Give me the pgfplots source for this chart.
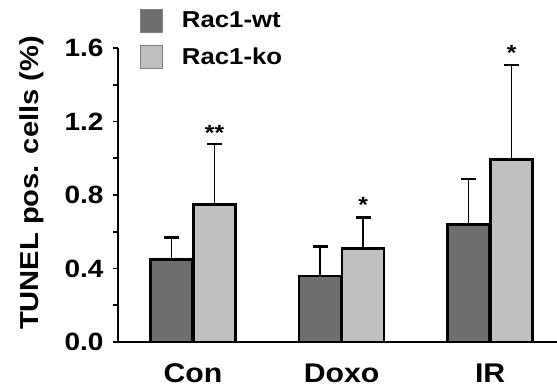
\documentclass[border=0pt]{standalone}
\usepackage{pgfplots}
\pgfplotsset{compat=1.18}
\usepackage{fontspec}
\setmainfont{Liberation Sans}[FakeStretch=1.12]
\definecolor{wt}{HTML}{6E6E6E}
\definecolor{ko}{HTML}{C0C0C0}
\begin{document}
\begin{tikzpicture}
\useasboundingbox (-118bp,-50bp) rectangle (439bp,342bp);
\begin{axis}[
  at={(0,0)}, anchor=south west,
  scale only axis, width=439bp, height=294bp,
  xmin=-0.505, xmax=2.45, ymin=0, ymax=1.6,
  axis lines*=left, axis line style={line width=2.2bp},
  axis x line*=bottom,
  x axis line style={-}, y axis line style={-},
  xtick={0,1,2}, xticklabels={Con,Doxo,IR},
  xtick style={draw=none},
  ytick={0,0.4,0.8,1.2,1.6}, minor ytick={0.2,0.6,1.0,1.4},
  tick align=outside, major tick length=5bp, minor tick length=5bp,
  ytick style={line width=1.8bp, black}, minor tick style={line width=1.8bp,black},
  yticklabel style={/pgf/number format/.cd, fixed, fixed zerofill, precision=1, /tikz/.cd, font=\fontsize{25bp}{29bp}\selectfont\bfseries, xshift=-6bp},
  /pgf/number format/assume math mode=true,
  xticklabel style={font=\fontsize{27bp}{31bp}\selectfont\bfseries, yshift=-13bp},
  ylabel={TUNEL pos. cells (\%)},
  ylabel style={font=\fontsize{26bp}{30bp}\selectfont\bfseries, yshift=14bp, xshift=12bp},
  ybar, bar width=42bp,
  legend style={at={(rel axis cs:0.05,1.135)}, anchor=north west, draw=none, fill=none,
    inner sep=0pt, row sep=13bp, column sep=17bp, font=\fontsize{23bp}{27bp}\selectfont\bfseries},
  legend cell align=left,
  legend image code/.code={\draw[#1, draw=gray, line width=0.8bp] (0bp,-11.5bp) rectangle (22bp,11.5bp);},
  error bars/y dir=plus, error bars/y explicit,
  error bars/error bar style={line width=1.4bp, black},
  error bars/error mark options={rotate=90, mark size=7.5bp, line width=2.6bp, black},
  clip=false,
]
\addplot[fill=wt, draw=black, line width=2.6bp, bar shift=-21.5bp]
  coordinates {(0,0.45) +- (0,0.118) (1,0.36) +- (0,0.16) (2,0.638) +- (0,0.249)};
\addlegendentry{Rac1-wt}
\addplot[fill=ko, draw=black, line width=2.6bp, bar shift=21.5bp]
  coordinates {(0,0.747) +- (0,0.33) (1,0.509) +- (0,0.17) (2,0.992) +- (0,0.515)};
\addlegendentry{Rac1-ko}
\node[font=\fontsize{22bp}{26bp}\selectfont\bfseries] at ([xshift=21.5bp]axis cs:0,1.14) {**};
\node[font=\fontsize{22bp}{26bp}\selectfont\bfseries] at ([xshift=21.5bp]axis cs:1,0.745) {*};
\node[font=\fontsize{22bp}{26bp}\selectfont\bfseries] at ([xshift=21.5bp]axis cs:2,1.575) {*};
\end{axis}
\end{tikzpicture}
\end{document}
